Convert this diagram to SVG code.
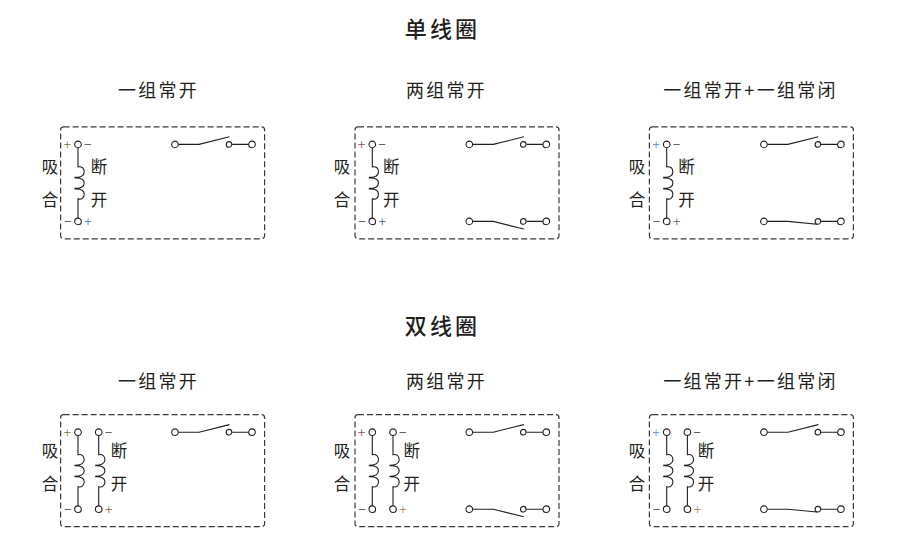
<svg xmlns="http://www.w3.org/2000/svg" xmlns:xlink="http://www.w3.org/1999/xlink" width="905" height="559" viewBox="0 0 905 559">
<style>
text{font-family:"Noto Sans CJK SC","Noto Sans",sans-serif;fill:#231f20;text-anchor:middle;dominant-baseline:central}
.t{font-size:22px;letter-spacing:3.2px;font-weight:500}
.s{font-size:18px;letter-spacing:2.3px}
.l{font-size:16.5px}
.p{font-size:14px;font-weight:300}
.box{fill:none;stroke:#3a3a3a;stroke-width:1.2;stroke-dasharray:6 3}
.w{fill:none;stroke:#231f20;stroke-width:1.1}
.c{fill:#fff;stroke:#231f20;stroke-width:1.1}
</style>
<defs>
<g id="coil"><path class="w" d="M0 3.5V22.5C4 21.6 6.2 24 6.2 27.5C6.2 31 4 33 -3.5 33M-3.5 33.5C4 33 6.2 36 6.2 38.5C6.2 42 4 44 -3.5 44M-3.5 44.5C4 44 6.2 47 6.2 49.5C6.2 53 4 55.5 0 54.5V73.5"/><circle class="c" cx="0" cy="0" r="3.3"/><circle class="c" cx="0" cy="77" r="3.3"/></g>
<g id="top"><path class="w" d="M3.2 0H24L54.5-7.6M57.2 0H73.8"/><circle class="c" cx="0" cy="0" r="3.3"/><circle class="c" cx="54" cy="0" r="2.8"/><circle class="c" cx="77" cy="0" r="3.3"/></g>
<g id="no"><path class="w" d="M3.2 0H24L54.5 7.6M57.2 0H73.8"/><circle class="c" cx="0" cy="0" r="3.3"/><circle class="c" cx="54" cy="0" r="2.8"/><circle class="c" cx="77" cy="0" r="3.3"/></g>
<g id="nc"><path class="w" d="M3.2 0H24L53 2.8M57 0H73.8"/><circle class="c" cx="0" cy="0" r="3.3"/><circle class="c" cx="54" cy="0" r="2.8"/><circle class="c" cx="77" cy="0" r="3.3"/></g>
</defs>
<text class="t" x="442.5" y="26.5">单线圈</text>
<text class="t" x="442.5" y="323.5">双线圈</text>
<text class="s" x="158.5" y="89">一组常开</text>
<text class="s" x="446.5" y="89">两组常开</text>
<text class="s" x="750.5" y="89">一组常开+一组常闭</text>
<text class="s" x="158.5" y="380">一组常开</text>
<text class="s" x="446.5" y="380">两组常开</text>
<text class="s" x="750.5" y="380">一组常开+一组常闭</text>
<g id="connectors"></g>
<g id="a1">
<rect class="box" x="60.6" y="126.8" width="204" height="112" rx="3"/>
<use xlink:href="#coil" x="78" y="144.4"/><use xlink:href="#top" x="175" y="144.4"/>
<text class="l" x="50" y="166">吸</text><text class="l" x="50" y="199">合</text><text class="l" x="99" y="166">断</text><text class="l" x="99" y="199">开</text>
<text class="p" x="67.3" y="143.5" style="fill:#7a7430">+</text><text class="p" x="87.7" y="143.5">−</text><text class="p" x="67.7" y="220.5">−</text><text class="p" x="88" y="220.5" style="fill:#3d6fb0">+</text>
</g>
<g id="a2">
<rect class="box" x="355" y="126.8" width="204" height="112" rx="3"/>
<use xlink:href="#coil" x="372.3" y="144.4"/><use xlink:href="#top" x="469.3" y="144.4"/><use xlink:href="#no" x="469.3" y="221.4"/>
<text class="l" x="342" y="166">吸</text><text class="l" x="342" y="199">合</text><text class="l" x="391.3" y="166">断</text><text class="l" x="391.3" y="199">开</text>
<text class="p" x="361.6" y="143.5" style="fill:#8a4a40">+</text><text class="p" x="382" y="143.5">−</text><text class="p" x="362" y="220.5">−</text><text class="p" x="382.3" y="220.5" style="fill:#3d4f9a">+</text>
</g>
<g id="a3">
<rect class="box" x="649.4" y="126.8" width="204" height="112" rx="3"/>
<use xlink:href="#coil" x="666.7" y="144.4"/><use xlink:href="#top" x="763.9" y="144.4"/><use xlink:href="#nc" x="763.9" y="221.4"/>
<text class="l" x="637" y="166">吸</text><text class="l" x="637" y="199">合</text><text class="l" x="686.5" y="166">断</text><text class="l" x="686.5" y="199">开</text>
<text class="p" x="656" y="143.5" style="fill:#4a86c4">+</text><text class="p" x="676.4" y="143.5">−</text><text class="p" x="656.4" y="220.5">−</text><text class="p" x="676.7" y="220.5" style="fill:#8a4a50">+</text>
</g>
<g id="b1">
<rect class="box" x="60.6" y="414.7" width="204" height="112" rx="3"/>
<use xlink:href="#coil" x="78" y="432.2"/><use xlink:href="#coil" x="98.7" y="432.2"/><use xlink:href="#top" x="175" y="432.2"/>
<text class="l" x="50" y="450">吸</text><text class="l" x="50" y="483">合</text><text class="l" x="119" y="450">断</text><text class="l" x="119" y="483">开</text>
<text class="p" x="67.3" y="431.5" style="fill:#7a7430">+</text><text class="p" x="108.4" y="431.5">−</text><text class="p" x="67.7" y="508.5">−</text><text class="p" x="108.7" y="508.5" style="fill:#a0503c">+</text>
</g>
<g id="b2">
<rect class="box" x="355" y="414.7" width="204" height="112" rx="3"/>
<use xlink:href="#coil" x="372.3" y="432.2"/><use xlink:href="#coil" x="393" y="432.2"/><use xlink:href="#top" x="469.3" y="432.2"/><use xlink:href="#no" x="469.3" y="509.2"/>
<text class="l" x="342" y="450">吸</text><text class="l" x="342" y="483">合</text><text class="l" x="411.7" y="450">断</text><text class="l" x="411.7" y="483">开</text>
<text class="p" x="361.6" y="431.5" style="fill:#8a4a40">+</text><text class="p" x="402.7" y="431.5">−</text><text class="p" x="362" y="508.5">−</text><text class="p" x="403" y="508.5" style="fill:#b8763a">+</text>
</g>
<g id="b3">
<rect class="box" x="649.4" y="414.7" width="204" height="112" rx="3"/>
<use xlink:href="#coil" x="666.7" y="432.2"/><use xlink:href="#coil" x="687.4" y="432.2"/><use xlink:href="#top" x="763.9" y="432.2"/><use xlink:href="#nc" x="763.9" y="509.2"/>
<text class="l" x="637" y="450">吸</text><text class="l" x="637" y="483">合</text><text class="l" x="706" y="450">断</text><text class="l" x="706" y="483">开</text>
<text class="p" x="656" y="431.5" style="fill:#4a86c4">+</text><text class="p" x="697" y="431.5">−</text><text class="p" x="656.4" y="508.5">−</text><text class="p" x="697.4" y="508.5" style="fill:#b8763a">+</text>
</g>
</svg>
